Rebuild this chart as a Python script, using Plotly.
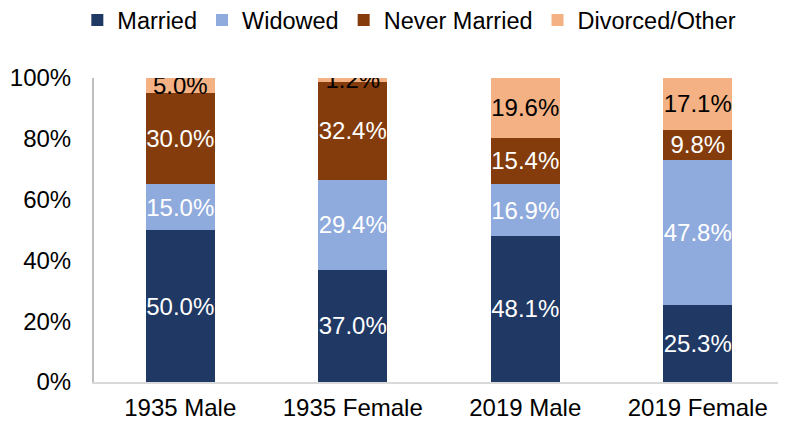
import plotly.graph_objects as go

categories = ["1935 Male", "1935 Female", "2019 Male", "2019 Female"]
married = [50.0, 37.0, 48.1, 25.3]
widowed = [15.0, 29.4, 16.9, 47.8]
never_married = [30.0, 32.4, 15.4, 9.8]
divorced = [5.0, 1.2, 19.6, 17.1]

series = [
    ("Married", married, "#203864", "white"),
    ("Widowed", widowed, "#8FAADC", "white"),
    ("Never Married", never_married, "#843C0C", "white"),
    ("Divorced/Other", divorced, "#F4B183", "black"),
]

FONT = "Liberation Sans, Arial"

fig = go.Figure()
for name, vals, color, tcolor in series:
    fig.add_trace(go.Bar(
        name=name,
        x=categories,
        y=[v / 100 for v in vals],
        marker=dict(color=color, line=dict(width=0)),
        text=[f"{v:.1f}%" for v in vals],
        textposition="inside",
        insidetextanchor="middle",
        textangle=0,
        constraintext="none",
        textfont=dict(color=tcolor, size=24, family=FONT),
        hoverinfo="skip",
    ))

fig.update_layout(
    barmode="stack",
    bargap=0.6,
    width=778, height=415,
    margin=dict(l=86, r=2, t=70, b=41, autoexpand=False),
    plot_bgcolor="white",
    paper_bgcolor="white",
    font=dict(family=FONT, size=24, color="black"),
    legend=dict(orientation="h", x=0.457, xanchor="center", y=1.19, yanchor="middle",
                yref="paper", font=dict(size=23.5), itemwidth=30, traceorder="normal",
                tracegroupgap=0),
)
fig.update_yaxes(range=[0, 1], tickvals=[0, 0.2, 0.4, 0.6, 0.8, 1.0], tickformat=".0%",
                 showgrid=False, showline=True, linecolor="#BFBFBF", linewidth=2,
                 ticks="", zeroline=False, ticklabelstandoff=16, automargin=False)
fig.update_xaxes(showline=True, linecolor="#D9D9D9", linewidth=2, ticks="", showgrid=False,
                 ticklabelstandoff=3, automargin=False)

fig.write_html("out.html")
